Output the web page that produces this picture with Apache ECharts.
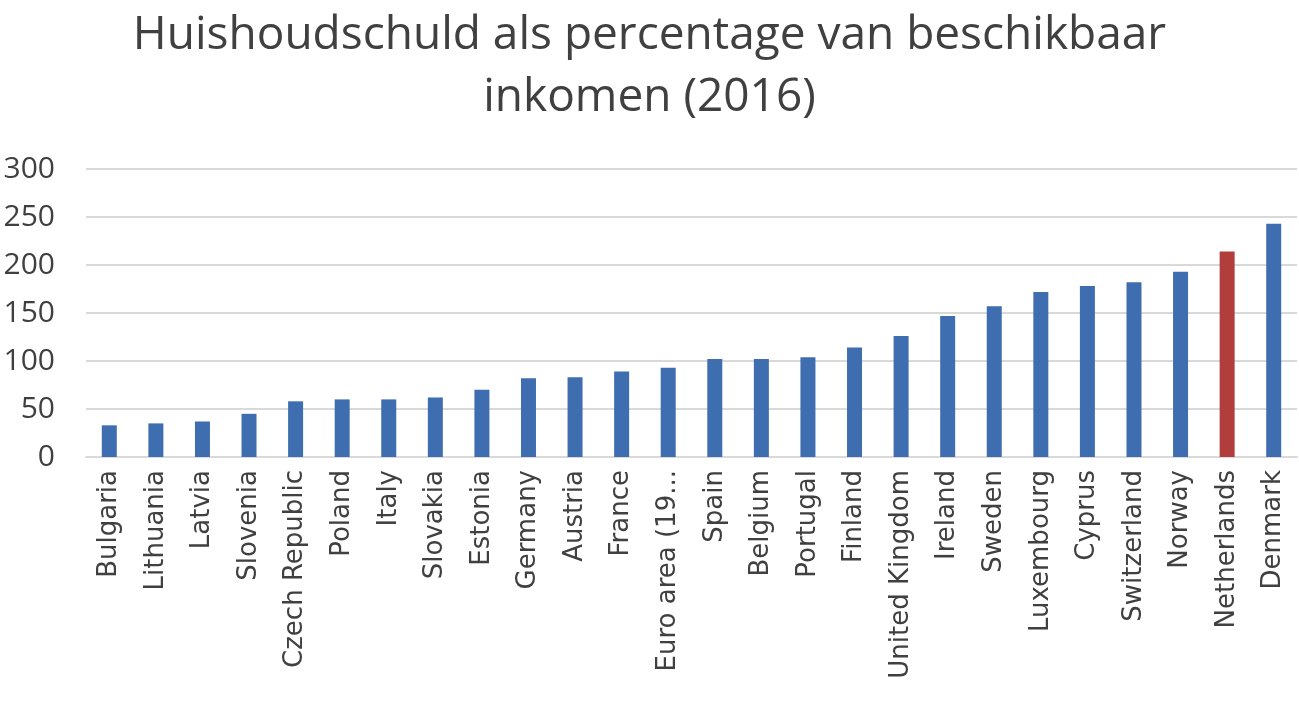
<!DOCTYPE html>
<html>
<head>
<meta charset="utf-8">
<script src="https://cdn.jsdelivr.net/npm/echarts@6/dist/echarts.min.js"></script>
<style>
html,body{margin:0;padding:0;background:#fff;}
#chart{width:1299px;height:707px;}
</style>
</head>
<body>
<div id="chart"></div>
<script>
var categories = ["Bulgaria","Lithuania","Latvia","Slovenia","Czech Republic","Poland","Italy","Slovakia","Estonia","Germany","Austria","France","Euro area (19 countries)","Spain","Belgium","Portugal","Finland","United Kingdom","Ireland","Sweden","Luxembourg","Cyprus","Switzerland","Norway","Netherlands","Denmark"];
var values = [33, 35, 37, 45, 58, 60, 60, 62, 70, 82, 83, 89, 93, 102, 102, 104, 114, 126, 147, 157, 172, 178, 182, 193, 214, 243];
var highlight = "Netherlands";
var yTicks = [0, 50, 100, 150, 200, 250, 300];

var chart = echarts.init(document.getElementById('chart'));
var font = "'Open Sans', 'Noto Sans', sans-serif";
chart.setOption({
  animation: false,
  title: {
    text: "Huishoudschuld als percentage van beschikbaar\ninkomen (2016)",
    left: 'center',
    top: 0,
    textStyle: {fontFamily: font, fontSize: 46, fontWeight: 'normal', color: '#404040', lineHeight: 62}
  },
  grid: {left: 86, right: 2, top: 169, bottom: 250, containLabel: false},
  xAxis: {
    type: 'category',
    data: categories,
    axisLine: {show: true, lineStyle: {color: '#d9d9d9', width: 2}},
    axisTick: {show: false},
    axisLabel: {
      rotate: 90, interval: 0, margin: 13,
      fontFamily: "'DejaVu Sans', sans-serif", fontSize: 26, color: '#404040',
      formatter: function (v) { return v.length > 16 ? v.slice(0, 13) + '...' : v; }
    }
  },
  yAxis: {
    type: 'value',
    min: yTicks[0], max: yTicks[yTicks.length - 1], interval: 50,
    axisLine: {show: false},
    axisTick: {show: false},
    splitLine: {lineStyle: {color: '#d9d9d9', width: 2}},
    axisLabel: {fontFamily: font, fontSize: 30, color: '#404040', margin: 31}
  },
  series: [{
    type: 'bar',
    barWidth: 15,
    data: values.map(function (v, i) {
      return {value: v, itemStyle: {color: categories[i] === highlight ? '#b13d3d' : '#3e6db0'}};
    })
  }]
});
</script>
</body>
</html>
